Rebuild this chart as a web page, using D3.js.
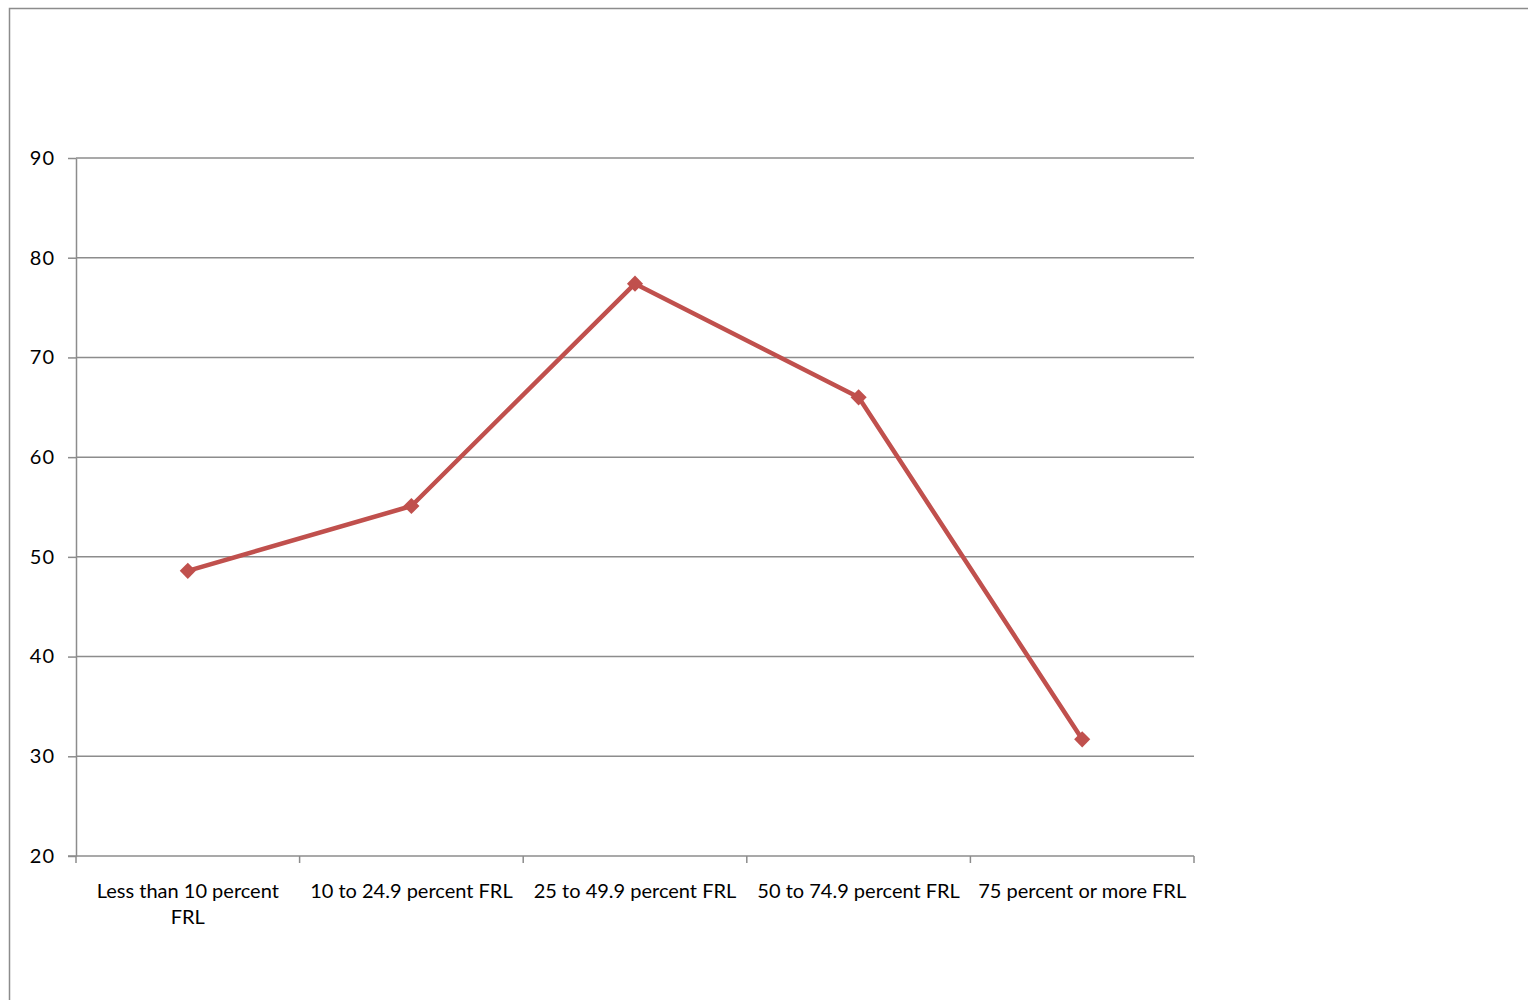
<!DOCTYPE html>
<html>
<head>
<meta charset="utf-8">
<script src="https://cdn.jsdelivr.net/npm/d3@7"></script>
<style>
  html, body { margin: 0; padding: 0; background: #fff; }
  svg { display: block; }
  text { font-family: Lato, "Open Sans", sans-serif; fill: #000; }
</style>
</head>
<body>
<svg id="chart" width="1528" height="1000"></svg>
<script>
const categories = [
  "Less than 10 percent FRL",
  "10 to 24.9 percent FRL",
  "25 to 49.9 percent FRL",
  "50 to 74.9 percent FRL",
  "75 percent or more FRL"
];
const values = [48.6, 55.1, 77.4, 66.0, 31.7];
const yTicks = [20, 30, 40, 50, 60, 70, 80, 90];

const svg = d3.select("#chart");
const plot = { left: 76, right: 1194, top: 158, bottom: 856 };
const grey = "#8c8c8c";
const lineColor = "#c0504d";

// outer frame
svg.append("rect")
  .attr("x", 9.5).attr("y", 8.5)
  .attr("width", 1600).attr("height", 1100)
  .attr("fill", "none").attr("stroke", grey).attr("stroke-width", 1.5);

const x = d3.scaleBand().domain(categories).range([plot.left, plot.right]).padding(0);
const y = d3.scaleLinear().domain([20, 90]).range([plot.bottom, plot.top]);

// gridlines
svg.append("g").selectAll("line").data(yTicks.filter(d => d !== 20)).join("line")
  .attr("x1", plot.left).attr("x2", plot.right)
  .attr("y1", d => y(d)).attr("y2", d => y(d))
  .attr("stroke", grey).attr("stroke-width", 1.5);

// y axis
const yAxis = svg.append("g").attr("transform", `translate(${plot.left},0)`)
  .call(d3.axisLeft(y).tickValues(yTicks).tickSize(8).tickPadding(13).tickSizeOuter(0));
yAxis.select(".domain").attr("stroke", grey).attr("stroke-width", 1.5);
yAxis.selectAll(".tick line").attr("stroke", grey).attr("stroke-width", 1.5);
yAxis.selectAll(".tick text").attr("font-size", 20).attr("font-family", "Lato, sans-serif")
  .attr("fill", "#000").attr("letter-spacing", 1);

// x axis
const boundaries = categories.map(c => x(c)).concat([plot.right]);
const xg = svg.append("g");
xg.append("line")
  .attr("x1", plot.left - 8).attr("x2", plot.right)
  .attr("y1", plot.bottom).attr("y2", plot.bottom)
  .attr("stroke", grey).attr("stroke-width", 1.5);
xg.selectAll("line.tk").data(boundaries).join("line").attr("class", "tk")
  .attr("x1", d => d).attr("x2", d => d)
  .attr("y1", plot.bottom).attr("y2", plot.bottom + 7)
  .attr("stroke", grey).attr("stroke-width", 1.5);

// x labels with wrapping
const maxW = x.bandwidth() - 8;
categories.forEach(c => {
  const t = xg.append("text")
    .attr("x", x(c) + x.bandwidth() / 2)
    .attr("y", 898)
    .attr("text-anchor", "middle")
    .attr("font-size", 20);
  const words = c.split(" ");
  let line = [];
  let tspan = t.append("tspan").attr("x", x(c) + x.bandwidth() / 2).attr("dy", 0);
  words.forEach(w => {
    line.push(w);
    tspan.text(line.join(" "));
    if (tspan.node().getComputedTextLength() > maxW && line.length > 1) {
      line.pop();
      tspan.text(line.join(" "));
      line = [w];
      tspan = t.append("tspan").attr("x", x(c) + x.bandwidth() / 2).attr("dy", 26).text(w);
    }
  });
});

// line
const cx = d => x(d) + x.bandwidth() / 2;
const lineGen = d3.line().x((d, i) => cx(categories[i])).y(d => y(d));
svg.append("path").datum(values)
  .attr("d", lineGen)
  .attr("fill", "none").attr("stroke", lineColor)
  .attr("stroke-width", 4.5).attr("stroke-linejoin", "round");

// markers
svg.append("g").selectAll("path").data(values).join("path")
  .attr("d", d3.symbol().type(d3.symbolSquare).size(130))
  .attr("transform", (d, i) => `translate(${cx(categories[i])},${y(d)}) rotate(45)`)
  .attr("fill", lineColor);
</script>
</body>
</html>
